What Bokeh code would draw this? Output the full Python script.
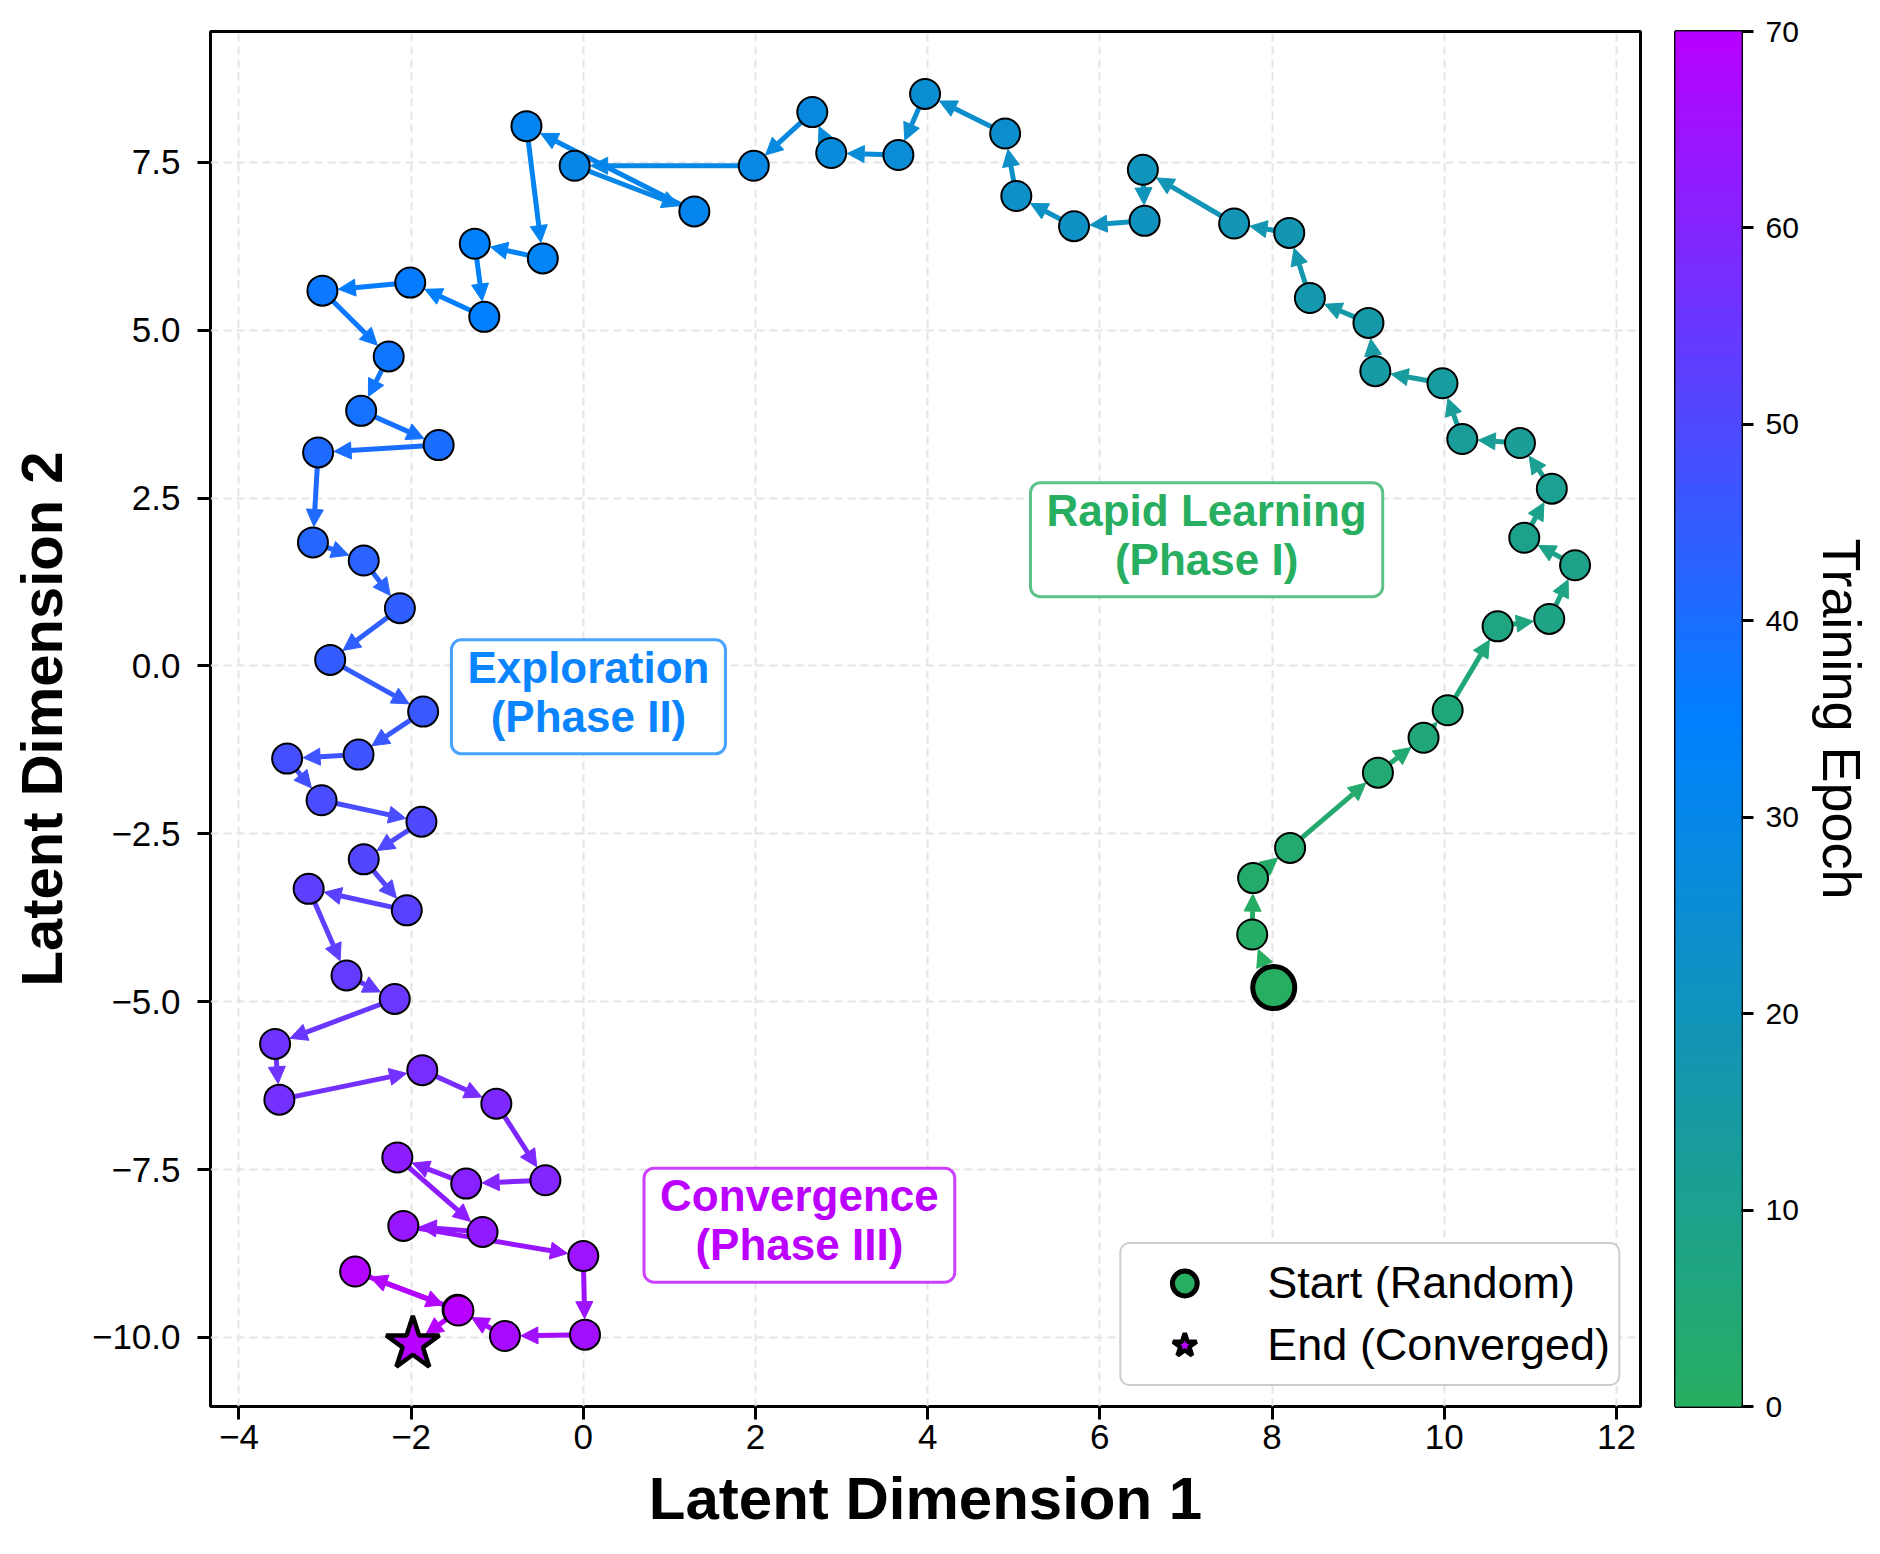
import numpy as np
from bokeh.plotting import figure
from bokeh.models import (Range1d, FixedTicker, Arrow, NormalHead, Label, Legend,
                          LegendItem, ColumnDataSource)
from bokeh.layouts import row
from bokeh.embed import file_html
from bokeh.resources import INLINE

# ---------------- data ----------------
traj_x = [8.02, 7.77, 7.78, 8.21, 9.23, 9.76, 10.04, 10.62, 11.22, 11.52,
          10.93, 11.25, 10.88, 10.21, 9.98, 9.20, 9.12, 8.44, 8.20, 7.56,
          6.50, 6.52, 5.70, 5.03, 4.90, 3.97, 3.66, 2.88, 2.66, 1.98,
          -0.10, 1.29, -0.66, -0.47, -1.26, -1.15, -2.01, -3.03, -2.26, -2.58,
          -1.68, -3.08, -3.14, -2.55, -2.13, -2.94, -1.86, -2.61, -3.44, -3.04,
          -1.88, -2.55, -2.05, -3.19, -2.75, -2.19, -3.58, -3.53, -1.87, -1.01,
          -0.44, -1.36, -2.16, -1.17, -2.09, 0.00, 0.02, -0.91, -1.46, -2.65,
          -1.45, -1.98]
traj_y = [-4.79, -4.00, -3.16, -2.71, -1.59, -1.07, -0.66, 0.59, 0.70, 1.50,
          1.91, 2.64, 3.32, 3.38, 4.21, 4.39, 5.11, 5.48, 6.45, 6.59,
          7.39, 6.63, 6.55, 7.00, 7.93, 8.52, 7.61, 7.64, 8.25, 7.45,
          7.45, 6.77, 8.04, 6.07, 6.29, 5.20, 5.71, 5.59, 4.61, 3.80,
          3.29, 3.18, 1.84, 1.57, 0.86, 0.09, -0.68, -1.32, -1.38, -2.00,
          -2.32, -2.88, -3.64, -3.32, -4.61, -4.96, -5.63, -6.46, -6.02, -6.52,
          -7.66, -7.71, -7.32, -8.43, -8.34, -8.79, -9.96, -9.98, -9.59, -9.02,
          -9.60, -10.10]
epochs = list(range(71))          # epochs of the plotted points (0..70)
epoch_min, epoch_max = 0, 70

x_ticks = [-4, -2, 0, 2, 4, 6, 8, 10, 12]
x_tick_labels = ["\u22124", "\u22122", "0", "2", "4", "6", "8", "10", "12"]
y_ticks = [-10.0, -7.5, -5.0, -2.5, 0.0, 2.5, 5.0, 7.5]
y_tick_labels = ["\u221210.0", "\u22127.5", "\u22125.0", "\u22122.5", "0.0", "2.5", "5.0", "7.5"]
cbar_ticks = [0, 10, 20, 30, 40, 50, 60, 70]

phase_texts = ["Rapid Learning\n(Phase I)", "Exploration\n(Phase II)", "Convergence\n(Phase III)"]
phase_x = [7.24, 0.06, 2.51]
phase_y = [1.88, -0.46, -8.33]

x_lo, x_hi = -4.33, 12.28
y_lo, y_hi = -11.03, 9.45

# ---------------- colours ----------------
C_GREEN, C_BLUE, C_MAG = "#27AE60", "#0080FF", "#B700FF"
phase_colors = [C_GREEN, "#0A84FF", "#BB00FF"]


def _rgb(h):
    h = h.lstrip("#")
    return np.array([int(h[i:i + 2], 16) for i in (0, 2, 4)], dtype=float)


_anchors = [_rgb(C_GREEN), _rgb(C_BLUE), _rgb(C_MAG)]


def epoch_color(e):
    t = min(max((e - epoch_min) / (epoch_max - epoch_min), 0.0), 1.0)
    if t <= 0.5:
        a, b, u = _anchors[0], _anchors[1], t / 0.5
    else:
        a, b, u = _anchors[1], _anchors[2], (t - 0.5) / 0.5
    c = a + (b - a) * u
    return "#%02x%02x%02x" % tuple(int(round(v)) for v in c)


FONT = "Liberation Sans"

# ---------------- main figure ----------------
W1, H = 1655, 1554
MB_L, MB_R, MB_T, MB_B = 210, 15, 31, 148
p = figure(width=W1, height=H, x_range=Range1d(x_lo, x_hi), y_range=Range1d(y_lo, y_hi),
           toolbar_location=None, output_backend="svg",
           min_border_left=MB_L, min_border_right=MB_R, min_border_top=MB_T, min_border_bottom=MB_B)
p.background_fill_color = "white"
p.border_fill_color = "white"
p.outline_line_color = "black"
p.outline_line_width = 3

for ax, ticks, labels in ((p.xaxis, x_ticks, x_tick_labels), (p.yaxis, y_ticks, y_tick_labels)):
    ax.ticker = FixedTicker(ticks=ticks)
    ax.major_label_overrides = {t: l for t, l in zip(ticks, labels)}
    ax.major_label_text_font = FONT
    ax.major_label_text_font_size = "35px"
    ax.major_label_text_color = "black"
    ax.axis_line_color = None
    ax.major_tick_out = 13
    ax.major_tick_in = 0
    ax.major_tick_line_width = 3
    ax.major_tick_line_color = "black"
    ax.minor_tick_line_color = None
    ax.axis_label_text_font = FONT
    ax.axis_label_text_font_size = "60px"
    ax.axis_label_text_font_style = "bold"
    ax.axis_label_text_color = "black"
p.xaxis.axis_label = "Latent Dimension 1"
p.yaxis.axis_label = "Latent Dimension 2"
p.yaxis.axis_label_text_font_size = "58px"
p.xaxis.major_label_standoff = 5
p.yaxis.major_label_standoff = 17
p.xaxis.axis_label_standoff = 13
p.yaxis.axis_label_standoff = 15

p.xgrid.ticker = FixedTicker(ticks=x_ticks)
p.ygrid.ticker = FixedTicker(ticks=y_ticks)
for g in (p.xgrid, p.ygrid):
    g.grid_line_color = "#e4e4e4"
    g.grid_line_width = 2
    g.grid_line_dash = "8 5"

# arrows between consecutive positions
frame_w = W1 - MB_L - MB_R
frame_h = H - MB_T - MB_B
sx = frame_w / (x_hi - x_lo)
sy = frame_h / (y_hi - y_lo)
shrink_px = 16.0
for i in range(len(traj_x) - 1):
    x0, y0, x1, y1 = traj_x[i], traj_y[i], traj_x[i + 1], traj_y[i + 1]
    dxp, dyp = (x1 - x0) * sx, (y1 - y0) * sy
    L = float(np.hypot(dxp, dyp))
    if L <= shrink_px + 2:
        continue
    xe = x1 - dxp / L * shrink_px / sx
    ye = y1 - dyp / L * shrink_px / sy
    col = epoch_color(min(i, epoch_max))
    p.add_layout(Arrow(x_start=x0, y_start=y0, x_end=xe, y_end=ye,
                       line_color=col, line_width=5, level="underlay",
                       end=NormalHead(size=17, fill_color=col, line_color=col, line_width=1)))

# trajectory points
src = ColumnDataSource(dict(x=traj_x[:len(epochs)], y=traj_y[:len(epochs)], epoch=epochs,
                            color=[epoch_color(e) for e in epochs]))
p.scatter("x", "y", source=src, size=30, fill_color="color", line_color="black", line_width=2)

# start / end markers
r_start = p.scatter(x=[traj_x[0]], y=[traj_y[0]], marker="circle", size=42,
                    fill_color=epoch_color(epoch_min), line_color="black", line_width=5)
r_end = p.scatter(x=[traj_x[-1]], y=[traj_y[-1]], marker="star", size=56,
                  fill_color=epoch_color(epoch_max), line_color="black", line_width=4.5)

# phase annotations
lab_props = Label.properties()
for t, lx, ly, c in zip(phase_texts, phase_x, phase_y, phase_colors):
    kw = dict(x=lx, y=ly, text=t, text_font=FONT, text_font_size="44px",
              text_font_style="bold", text_color=c, text_align="center",
              text_baseline="middle", text_line_height=1.0,
              background_fill_color="white", background_fill_alpha=0.9,
              border_line_color=c, border_line_alpha=0.75, border_line_width=3)
    if "border_radius" in lab_props:
        kw["border_radius"] = 10
    lab = None
    if "padding" in lab_props:
        try:
            lab = Label(padding=dict(left=16, right=16, top=3, bottom=13), **kw)
        except Exception:
            lab = Label(padding=(16, 8), **kw)
    else:
        lab = Label(**kw)
    p.add_layout(lab)

legend = Legend(items=[LegendItem(label="Start (Random)", renderers=[r_start]),
                       LegendItem(label="End (Converged)", renderers=[r_end])],
                location="bottom_right")
legend.label_text_font = FONT
legend.label_text_font_size = "45px"
legend.label_text_color = "black"
legend.glyph_width = 110
legend.glyph_height = 62
legend.label_height = 62
legend.padding = 8
legend.spacing = 0
legend.margin = 20
legend.label_standoff = 28
legend.border_line_color = "#999999"
legend.border_line_width = 2.5
legend.background_fill_alpha = 0.9
if "border_radius" in Legend.properties():
    legend.border_radius = 10
p.add_layout(legend)

# ---------------- colour bar figure ----------------
W2 = 1880 - W1
p2 = figure(width=W2, height=H, x_range=Range1d(0, 1), y_range=Range1d(epoch_min, epoch_max),
            x_axis_location=None, y_axis_location="right",
            toolbar_location=None, output_backend="svg",
            min_border_left=20, min_border_right=W2 - 20 - 66, min_border_top=MB_T, min_border_bottom=MB_B)
p2.grid.visible = False
p2.background_fill_color = "white"
p2.border_fill_color = "white"
levels = np.linspace(epoch_min, epoch_max, 141)
mids = (levels[:-1] + levels[1:]) / 2
cb_cols = [epoch_color(m) for m in mids]
p2.quad(left=0, right=1, bottom=levels[:-1], top=levels[1:], fill_color=cb_cols,
        line_color=cb_cols, line_width=1)
p2.outline_line_color = "black"
p2.outline_line_width = 3
ya = p2.yaxis[0]
ya.ticker = FixedTicker(ticks=cbar_ticks)
ya.major_label_text_font = FONT
ya.major_label_text_font_size = "30px"
ya.major_label_text_color = "black"
ya.axis_line_color = None
ya.major_tick_out = 12
ya.major_tick_in = 0
ya.major_tick_line_width = 3
ya.minor_tick_line_color = None
ya.major_label_standoff = 12
ya.axis_label = "Training Epoch"
ya.axis_label_text_font = FONT
ya.axis_label_text_font_size = "54px"
ya.axis_label_text_font_style = "normal"
ya.axis_label_text_color = "black"
ya.axis_label_standoff = 10

layout = row(p, p2)
open("out.html", "w").write(file_html(layout, INLINE))
